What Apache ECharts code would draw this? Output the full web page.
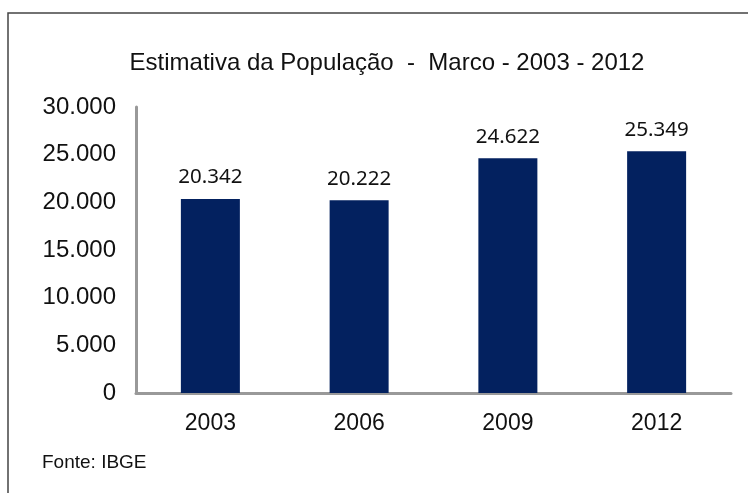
<!DOCTYPE html>
<html>
<head>
<meta charset="utf-8">
<script src="https://cdn.jsdelivr.net/npm/echarts@6/dist/echarts.min.js"></script>
<style>
html,body{margin:0;padding:0;background:#fff;}
#c{width:748px;height:493px;}
</style>
</head>
<body>
<div id="c"></div>
<script>
const categories = ['2003', '2006', '2009', '2012'];
const populacao = [20342, 20222, 24622, 25349];
const yTicks = [0, 5000, 10000, 15000, 20000, 25000, 30000];
const titleText = 'Estimativa da População  -  Marco - 2003 - 2012';
const sourceText = 'Fonte: IBGE';

function fmt(v) {
  return String(v).replace(/\B(?=(\d{3})+(?!\d))/g, '.');
}

const chart = echarts.init(document.getElementById('c'), null, {renderer: 'canvas'});
chart.setOption({
  animation: false,
  backgroundColor: '#ffffff',
  title: {
    text: titleText,
    left: 382,
    textAlign: 'center',
    top: 46,
    textStyle: {fontFamily: 'Liberation Sans, Arial', fontSize: 24, fontWeight: 'normal', color: '#111'}
  },
  graphic: [
    {type: 'rect', shape: {x: 8, y: 13, width: 800, height: 600}, style: {fill: 'none', stroke: '#444', lineWidth: 1.5}, silent: true},
    {type: 'text', left: 42, top: 453, style: {text: sourceText, font: '19px "Liberation Sans", Arial', fill: '#111'}}
  ],
  grid: {left: 136, right: 17, top: 107, bottom: 100, containLabel: false},
  xAxis: {
    type: 'category',
    data: categories,
    axisLine: {show: true, lineStyle: {color: '#999', width: 3}},
    axisTick: {show: false},
    axisLabel: {margin: 19, fontFamily: 'Liberation Sans, Arial', fontSize: 23, color: '#111'}
  },
  yAxis: {
    type: 'value',
    min: yTicks[0],
    max: yTicks[yTicks.length - 1],
    interval: yTicks[1] - yTicks[0],
    axisLine: {show: true, lineStyle: {color: '#999', width: 3}},
    axisTick: {show: false},
    splitLine: {show: false},
    axisLabel: {margin: 20, fontFamily: 'Liberation Sans, Arial', fontSize: 24, color: '#111', formatter: v => fmt(v)}
  },
  series: [{
    type: 'bar',
    data: populacao,
    barWidth: 59,
    itemStyle: {color: '#03215f'},
    label: {
      show: true,
      position: 'top',
      distance: 11,
      fontFamily: 'Noto Sans, Open Sans, sans-serif',
      fontSize: 20.5,
      color: '#111',
      formatter: p => fmt(p.value)
    }
  }]
});
</script>
</body>
</html>
